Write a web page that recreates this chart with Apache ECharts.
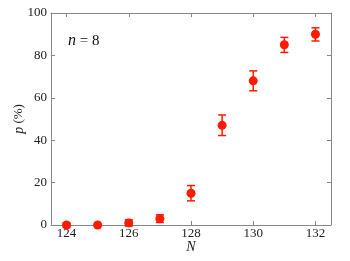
<!DOCTYPE html>
<html><head><meta charset="utf-8">
<script src="https://cdn.jsdelivr.net/npm/echarts@6/dist/echarts.min.js"></script>
<style>html,body{margin:0;padding:0;background:#fff}#c{width:350px;height:261px}</style>
</head><body><div id="c"></div>
<script>
const N = [124, 125, 126, 127, 128, 129, 130, 131, 132];
const p = [0, 0, 1, 3, 15, 47, 68, 85, 90];
const errLow = [1, 0.5, 1.5, 1.8, 3.6, 4.8, 4.7, 3.6, 3.2];
const errHigh = [1, 0.5, 1.5, 1.8, 3.6, 4.9, 4.7, 3.5, 3.0];
const xTicks = [124, 126, 128, 130, 132];
const yTicks = [0, 20, 40, 60, 80, 100];

const red = '#ff1a00';
const font = '"Liberation Serif", serif';
const axisColor = '#888';

const errData = N.map((n, i) => [n, p[i] - errLow[i], p[i] + errHigh[i]]);
const ptData = N.map((n, i) => [n, p[i]]);

const chart = echarts.init(document.getElementById('c'));
const baseX = {
  type: 'value', min: 123.5, max: 132.5,
  splitLine: { show: false },
  axisLine: { show: true, onZero: false, lineStyle: { color: axisColor, width: 1 } },
  axisTick: { show: true, inside: true, length: 4, lineStyle: { color: axisColor },
    customValues: xTicks },
};
const baseY = {
  type: 'value', min: 0, max: 100, interval: 20,
  splitLine: { show: false },
  axisLine: { show: true, onZero: false, lineStyle: { color: axisColor, width: 1 } },
  axisTick: { show: true, inside: true, length: 4, lineStyle: { color: axisColor } },
};
chart.setOption({
  animation: false,
  grid: { left: 51, right: 19, top: 13, bottom: 36, containLabel: false, outerBoundsMode: 'none' },
  xAxis: [
    Object.assign({}, baseX, {
      position: 'bottom',
      name: 'N', nameLocation: 'middle', nameGap: 15, nameMoveOverlap: false,
      nameTextStyle: { fontFamily: font, fontStyle: 'italic', fontSize: 14, color: '#222' },
      axisLabel: { fontFamily: font, fontSize: 13, color: '#222', margin: 2, customValues: xTicks }
    }),
    Object.assign({}, baseX, { position: 'top', axisLabel: { show: false } })
  ],
  yAxis: [
    Object.assign({}, baseY, {
      position: 'left',
      name: '{i|p} (%)', nameLocation: 'middle', nameGap: 25, nameRotate: 90, nameMoveOverlap: false,
      nameTextStyle: { fontFamily: font, fontSize: 13, color: '#222',
        rich: { i: { fontFamily: font, fontStyle: 'italic', fontSize: 14, color: '#222' } } },
      axisLabel: { fontFamily: font, fontSize: 13, color: '#222', margin: 4 }
    }),
    Object.assign({}, baseY, { position: 'right', axisLabel: { show: false } })
  ],
  graphic: [{
    type: 'text', left: 68, top: 33,
    style: {
      text: '{i|n} = 8', font: '15px "Liberation Serif"', fill: '#111',
      rich: { i: { fontFamily: font, fontStyle: 'italic', fontSize: 16, fill: '#111' } }
    }
  }],
  series: [
    {
      type: 'custom',
      clip: false,
      xAxisIndex: 0, yAxisIndex: 0,
      data: errData,
      renderItem: function (params, api) {
        const x = api.value(0);
        const lo = api.coord([x, api.value(1)]);
        const hi = api.coord([x, api.value(2)]);
        const w = 4;
        const st = { stroke: red, lineWidth: 1.5 };
        return {
          type: 'group',
          children: [
            { type: 'line', shape: { x1: lo[0], y1: lo[1], x2: hi[0], y2: hi[1] }, style: st },
            { type: 'line', shape: { x1: lo[0] - w, y1: lo[1], x2: lo[0] + w, y2: lo[1] }, style: st },
            { type: 'line', shape: { x1: hi[0] - w, y1: hi[1], x2: hi[0] + w, y2: hi[1] }, style: st }
          ]
        };
      }
    },
    {
      type: 'scatter',
      clip: false,
      xAxisIndex: 0, yAxisIndex: 0,
      data: ptData,
      symbol: 'circle',
      symbolSize: 9,
      itemStyle: { color: red, opacity: 1 }
    }
  ]
});
</script></body></html>
